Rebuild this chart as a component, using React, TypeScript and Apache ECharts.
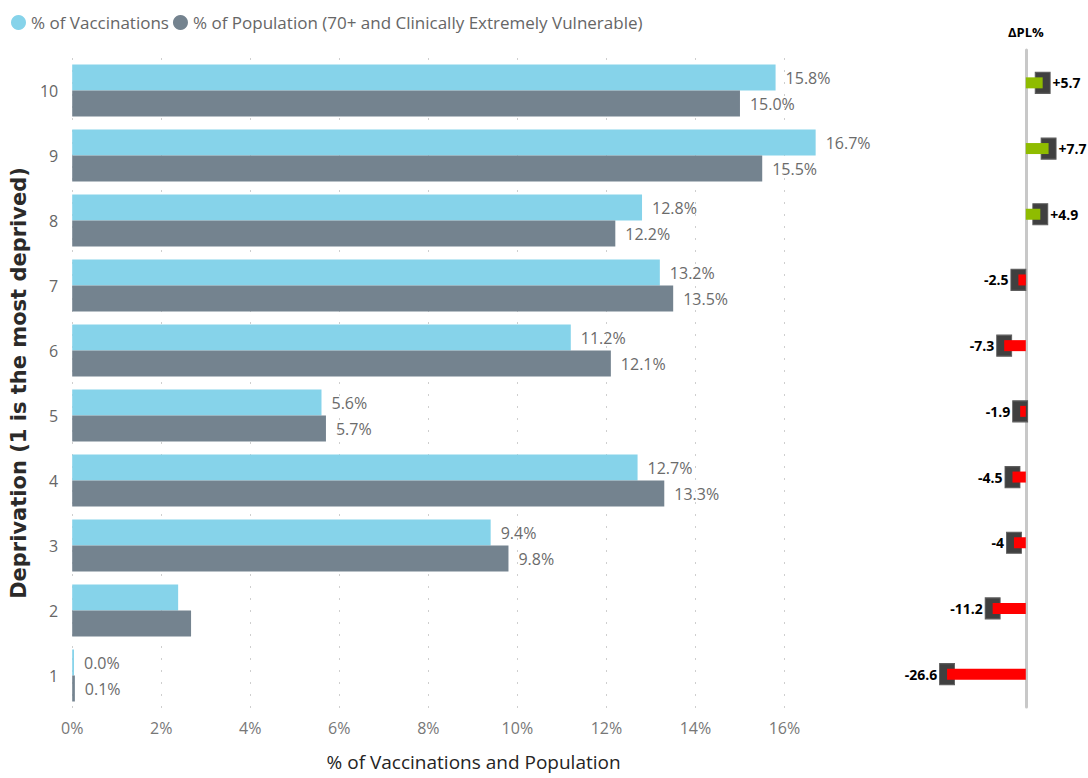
import React, { useEffect, useRef } from "react";
import * as echarts from "echarts";

const categories = ["1", "2", "3", "4", "5", "6", "7", "8", "9", "10"];
const vaccinations = [0.04, 2.38, 9.4, 12.7, 5.6, 11.2, 13.2, 12.8, 16.7, 15.8];
const population = [0.06, 2.67, 9.8, 13.3, 5.7, 12.1, 13.5, 12.2, 15.5, 15.0];
const deltaPL = [-26.6, -11.2, -4, -4.5, -1.9, -7.3, -2.5, 4.9, 7.7, 5.7];
const hiddenLabelCategories = ["2"];

const FONT = "'Open Sans', sans-serif";
const LABEL_GREY = "#6b6b6b";

export default function App() {
  const ref = useRef<HTMLDivElement>(null);

  useEffect(() => {
    if (!ref.current) return;
    const chart = echarts.init(ref.current, undefined, { renderer: "svg" });

    const pctLabel = (p: any) => `${Number(p.value).toFixed(1)}%`;
    const barData = (vals: number[]) =>
      vals.map((v, i) =>
        hiddenLabelCategories.includes(categories[i])
          ? { value: v, label: { show: false } }
          : { value: v }
      );

    const deltaFmt = (v: number) => (v > 0 ? `+${v}` : `${v}`);

    const option: any = {
      animation: false,
      textStyle: { fontFamily: FONT },
      legend: {
        left: 6,
        top: 9,
        icon: "circle",
        itemWidth: 15,
        itemHeight: 15,
        itemGap: 4,
        textStyle: { fontSize: 17, color: "#666", fontFamily: FONT },
        data: ["% of Vaccinations", "% of Population (70+ and Clinically Extremely Vulnerable)"],
      },
      grid: [
        { left: 72, top: 58, right: 259, bottom: 70 },
        { left: 937, top: 50, right: 3, bottom: 71 },
      ],
      xAxis: [
        {
          gridIndex: 0,
          type: "value",
          min: 0,
          max: 17,
          interval: 2,
          name: "% of Vaccinations and Population",
          nameLocation: "middle",
          nameGap: 44,
          nameTextStyle: {
            fontSize: 19,
            color: "#252423",
            fontFamily: FONT,
            padding: [0, 0, 0, 46],
          },
          axisLine: { show: false },
          axisTick: { show: false },
          axisLabel: {
            color: "#777",
            fontSize: 16,
            margin: 12,
            showMaxLabel: false,
            formatter: (v: number) => (v % 2 === 0 ? `${v}%` : ""),
          },
          splitLine: {
            show: true,
            showMaxLine: false,
            lineStyle: { color: "#cfcfcf", width: 1, type: [2, 10] },
          },
        },
        {
          gridIndex: 1,
          type: "value",
          min: -30,
          max: 20,
          show: false,
          splitLine: { show: false },
        },
      ],
      yAxis: [
        {
          gridIndex: 0,
          type: "category",
          data: categories,
          name: "Deprivation (1 is the most deprived)",
          nameLocation: "middle",
          nameGap: 41,
          nameTextStyle: {
            fontSize: 21,
            fontWeight: "bold",
            color: "#2b2a29",
            fontFamily: "'DejaVu Sans', Verdana, sans-serif",
          },
          axisLine: { show: false },
          axisTick: { show: false },
          axisLabel: { color: "#666", fontSize: 16, margin: 14 },
        },
        {
          gridIndex: 1,
          type: "category",
          data: categories,
          name: "ΔPL%",
          nameLocation: "end",
          nameGap: 12,
          nameTextStyle: { fontSize: 13, fontWeight: "bold", color: "#000", fontFamily: FONT },
          axisLine: { show: true, onZero: true, lineStyle: { color: "#c8c8c8", width: 3 } },
          axisTick: { show: false },
          axisLabel: { show: false },
        },
      ],
      series: [
        {
          name: "% of Vaccinations",
          type: "bar",
          xAxisIndex: 0,
          yAxisIndex: 0,
          data: barData(vaccinations),
          barGap: "0%",
          barCategoryGap: "20%",
          itemStyle: { color: "#86d3ea" },
          label: {
            show: true,
            position: "right",
            distance: 10,
            color: LABEL_GREY,
            fontSize: 16,
            fontFamily: FONT,
            formatter: pctLabel,
          },
        },
        {
          name: "% of Population (70+ and Clinically Extremely Vulnerable)",
          type: "bar",
          xAxisIndex: 0,
          yAxisIndex: 0,
          data: barData(population),
          barGap: "0%",
          barCategoryGap: "20%",
          itemStyle: { color: "#74838f" },
          label: {
            show: true,
            position: "right",
            distance: 10,
            color: LABEL_GREY,
            fontSize: 16,
            fontFamily: FONT,
            formatter: pctLabel,
          },
        },
        {
          name: "ΔPL marker",
          type: "scatter",
          xAxisIndex: 1,
          yAxisIndex: 1,
          symbol: "rect",
          symbolSize: [15, 21],
          itemStyle: { color: "#404040", borderColor: "#5e5e5e", borderWidth: 1, opacity: 1 },
          z: 2,
          data: deltaPL.map((v, i) => ({
            value: [v, categories[i]],
            label: {
              show: true,
              position: v >= 0 ? "right" : "left",
              distance: 2,
              formatter: deltaFmt(v),
              color: "#000",
              fontWeight: "bold",
              fontSize: 14,
              fontFamily: FONT,
            },
          })),
        },
        {
          name: "ΔPL bar",
          type: "bar",
          xAxisIndex: 1,
          yAxisIndex: 1,
          barWidth: 11,
          data: deltaPL.map((v) => ({
            value: v,
            itemStyle: { color: v >= 0 ? "#8fbc00" : "#ff0000" },
          })),
          z: 3,
        },
      ],
    };

    chart.setOption(option);
    return () => chart.dispose();
  }, []);

  return (
    <div
      ref={ref}
      style={{ position: "fixed", left: 0, top: 0, width: 1088, height: 778, background: "#fff" }}
    />
  );
}
